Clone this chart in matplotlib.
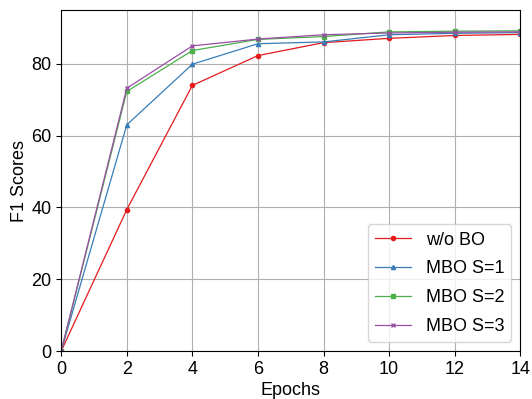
import matplotlib
matplotlib.use("Agg")
import matplotlib.pyplot as plt

plt.rcParams['font.family'] = ['Liberation Sans', 'DejaVu Sans']

epochs = [0, 2, 4, 6, 8, 10, 12, 14]
wo_bo = [0, 39.4, 74.0, 82.3, 85.9, 87.1, 87.9, 88.2]
mbo_s1 = [0, 63.0, 79.9, 85.6, 86.1, 88.1, 88.5, 88.7]
mbo_s2 = [0, 72.3, 83.7, 86.8, 87.6, 88.9, 89.1, 89.2]
mbo_s3 = [0, 73.2, 85.0, 86.9, 88.1, 88.6, 88.8, 88.9]

fig, ax = plt.subplots(figsize=(5.32, 3.99), dpi=100)
ax.plot(epochs, wo_bo, color='#e41a1c', marker='o', markersize=3, linewidth=0.9, label='w/o BO')
ax.plot(epochs, mbo_s1, color='#377eb8', marker='^', markersize=3, linewidth=0.9, label='MBO S=1')
ax.plot(epochs, mbo_s2, color='#4daf4a', marker='s', markersize=3, linewidth=0.9, label='MBO S=2')
ax.plot(epochs, mbo_s3, color='#984ea3', marker='x', markersize=3, linewidth=0.9, label='MBO S=3')

ax.set_xlim(0, 14)
ax.set_ylim(0, 95)
ax.set_xticks([0, 2, 4, 6, 8, 10, 12, 14])
ax.set_yticks([0, 20, 40, 60, 80])
ax.tick_params(labelsize=13)
ax.grid(True, color='#b0b0b0', linewidth=0.8)
ax.set_axisbelow(True)
ax.set_xlabel('Epochs', fontsize=13, labelpad=3)
ax.set_ylabel('F1 Scores', fontsize=13, labelpad=2)
ax.legend(loc='lower right', fontsize=13, labelspacing=0.65)
fig.subplots_adjust(left=0.115, right=0.978, top=0.975, bottom=0.12)
fig.savefig('out.png', dpi=100)
